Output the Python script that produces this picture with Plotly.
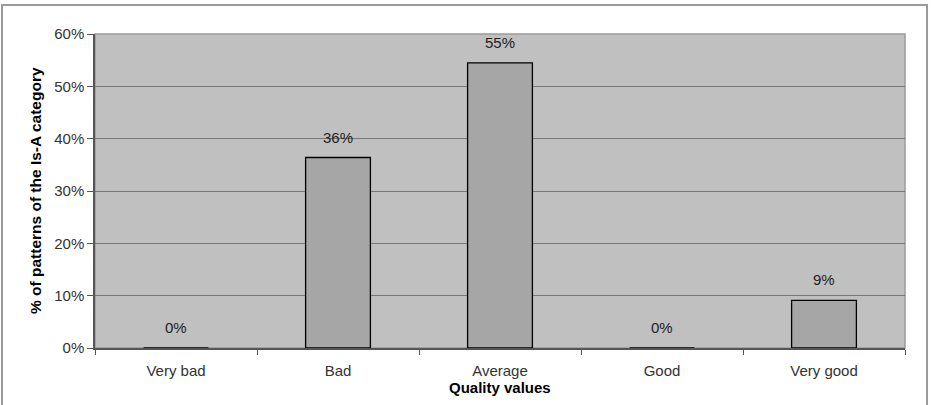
import plotly.graph_objects as go

categories = ["Very bad", "Bad", "Average", "Good", "Very good"]
values = [0.0, 36.4, 54.5, 0.0, 9.1]
labels = ["0%", "36%", "55%", "0%", "9%"]
y_ticks = [0, 10, 20, 30, 40, 50, 60]
y_tick_text = ["0%", "10%", "20%", "30%", "40%", "50%", "60%"]

FONT = "Liberation Sans, Arial, sans-serif"

fig = go.Figure()
fig.add_trace(go.Bar(
    x=categories, y=values, width=0.4,
    marker=dict(color="#a6a6a6", line=dict(color="#000000", width=1.3)),
    hoverinfo="skip",
))

for c, v, t in zip(categories, values, labels):
    fig.add_annotation(x=c, y=v, text=t, showarrow=False, yanchor="bottom",
                       yshift=10, font=dict(family=FONT, size=15, color="#222"))

# axis titles
fig.add_annotation(xref="paper", yref="paper", x=0.5, y=-0.125, text="<b>Quality values</b>",
                   showarrow=False, yanchor="middle", xanchor="center",
                   font=dict(family=FONT, size=15, color="#000"))
fig.add_annotation(xref="paper", yref="paper", x=-0.074, y=0.5,
                   text="<b>% of patterns of the Is-A category</b>", textangle=-90,
                   showarrow=False, xanchor="center", yanchor="middle",
                   font=dict(family=FONT, size=15.5, color="#000"))

# outer chart border
fig.add_shape(type="rect", xref="paper", yref="paper", x0=-0.1148, x1=1.0272, y0=-0.3, y1=1.0925,
              line=dict(color="#9a9a9a", width=2), layer="below")
# plot area border (top/right)
fig.add_shape(type="rect", xref="paper", yref="paper", x0=0, x1=1, y0=0, y1=1,
              line=dict(color="#9a9a9a", width=1.5), layer="below")

fig.update_layout(
    width=931, height=405,
    margin=dict(l=95, r=26, t=34, b=57),
    paper_bgcolor="#ffffff", plot_bgcolor="#c0c0c0",
    showlegend=False, bargap=0.6,
    font=dict(family=FONT, size=15, color="#333"),
)
fig.update_xaxes(
    showgrid=False, showline=True, linecolor="#555", linewidth=1.5,
    ticks="outside", tickson="boundaries", ticklen=5, tickcolor="#555",
    ticklabelstandoff=8,
    tickfont=dict(family=FONT, size=15, color="#333"),
)
fig.update_yaxes(
    range=[0, 60], tickvals=y_ticks, ticktext=y_tick_text,
    showgrid=True, gridcolor="#777777", gridwidth=1,
    showline=True, linecolor="#555", linewidth=1.5,
    ticks="outside", ticklen=6, tickcolor="#555",
    tickfont=dict(family=FONT, size=15, color="#333"), zeroline=False,
)

fig.write_html("out.html")
